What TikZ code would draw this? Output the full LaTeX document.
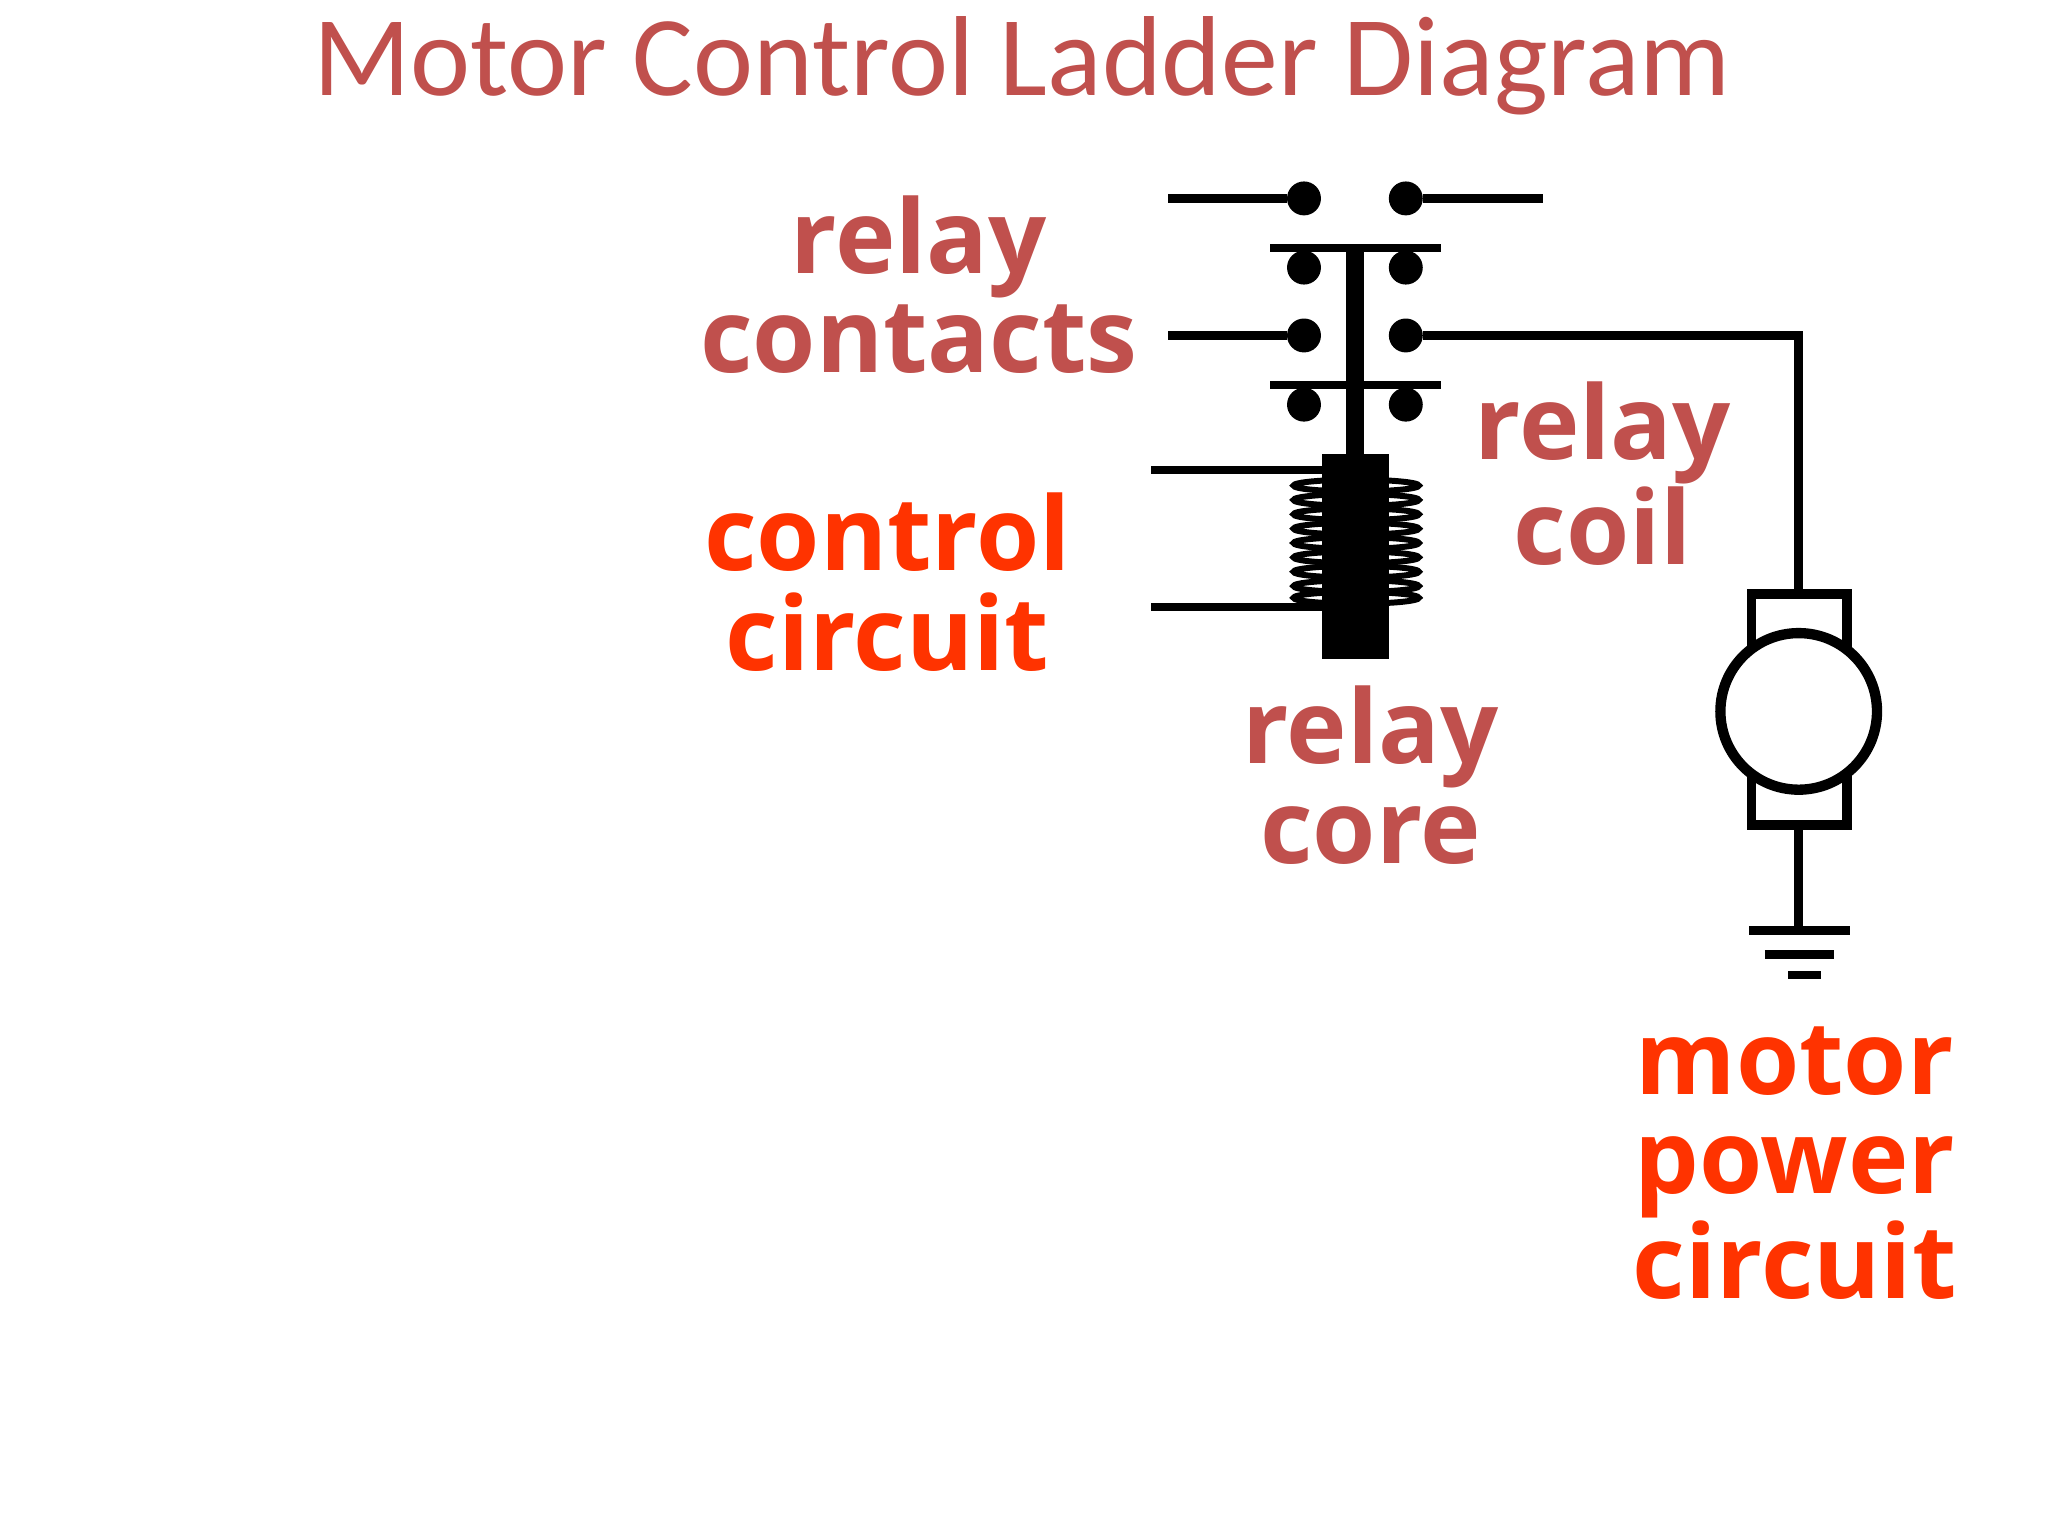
\documentclass[tikz,border=0pt]{standalone}
\usepackage{fontspec}
\setmainfont{Open Sans}
\newfontfamily\titlefont{Carlito}
\definecolor{lbl}{HTML}{C0504D}
\definecolor{hot}{HTML}{FF3300}
\begin{document}
\begin{tikzpicture}[x=0.02cm,y=-0.02cm,
  wire/.style={line width=3.8pt},
  dotc/.style={circle,fill=black,inner sep=0pt,minimum size=0.52cm},
  lab/.style={font=\fontsize{44.6}{43.5}\selectfont\bfseries,align=center,text=lbl,inner sep=0pt},
  hlab/.style={lab,text=hot}]
\useasboundingbox[fill=white] (0,0) rectangle (1569,1177);
\node[font=\titlefont\fontsize{49.6}{52}\selectfont,text=lbl,anchor=base] (title) at (783,73) {Motor Control Ladder Diagram};
% top contact
\coordinate (t0) at (895,152); \coordinate (t3) at (1182,152);
\node[dotc] (d1) at (999,152) {}; \node[dotc] (d2) at (1077,152) {};
\draw[wire] (t0) -- (d1); \draw[wire] (d2) -- (t3);
% bars
\coordinate (b1l) at (973,190); \coordinate (b1r) at (1104,190);
\coordinate (b2l) at (973,295); \coordinate (b2r) at (1104,295);
\draw[wire] (b1l) -- (b1r); \draw[wire] (b2l) -- (b2r);
\node[dotc] (d3) at (999,205) {}; \node[dotc] (d4) at (1077,205) {};
\node[dotc] (d5) at (999,257) {}; \node[dotc] (d6) at (1077,257) {};
\node[dotc] (d7) at (999,310) {}; \node[dotc] (d8) at (1077,310) {};
\coordinate (m0) at (895,257); \coordinate (mc) at (1378,257);
\draw[wire] (m0) -- (d5);
% shaft and core
\fill (1031,190) rectangle (1045,350);
\fill (1013,348) rectangle (1064,505);
% control wires
\draw[wire] (882,360) -- (1013,360);
\draw[wire] (882,465) -- (1013,465);
% coil
\foreach \y in {372,383,394,405,416,427,438,449,458}
  \draw[line width=2.6pt] (1039,\y) ellipse [x radius=48, y radius=4.5];
% motor
\draw[line width=4pt] (1342,455) rectangle (1415,632);
\node[circle,draw,line width=4.5pt,fill=white,minimum size=2.4cm,inner sep=0pt] (motor) at (1378,545) {};
\coordinate (mt) at (1378,455); \coordinate (mb) at (1378,632);
\draw[wire] (d6) -- (mc) -- (mt);
\coordinate (g) at (1378,713);
\draw[wire] (mb) -- (g);
\draw[wire] (1340,713) -- (1417,713);
\draw[wire] (1352,731) -- (1405,731);
\draw[wire] (1370,747) -- (1395,747);
% labels
\node[lab] (lc) at (704,218) {relay\\contacts};
\node[lab] (lco) at (1228,363) {relay\\coil};
\node[hlab] (cc) at (680,446) {control\\circuit};
\node[lab] (lcr) at (1050,594) {relay\\core};
\node[hlab] (mp) at (1375,891) {motor\\power\\circuit};
\end{tikzpicture}
\end{document}
